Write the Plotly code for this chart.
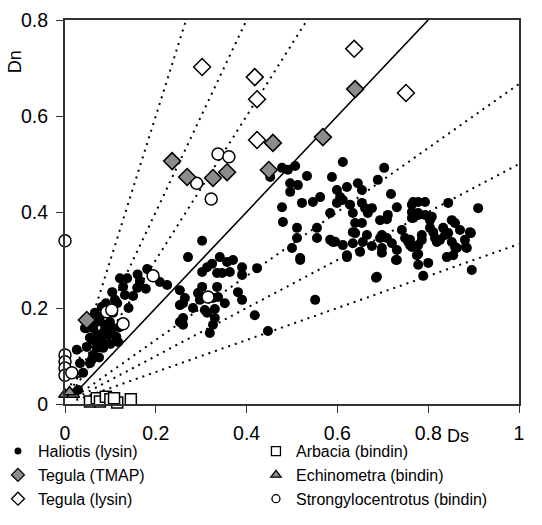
import plotly.graph_objects as go

# ---------------- data ----------------
hal_ds = [0.181,0.121,0.137,0.165,0.209,0.225,0.128,0.159,0.178,0.104,0.132,0.110,0.115,0.081,0.093,0.106,0.077,0.070,0.099,0.048,0.062,0.093,0.099,0.106,0.084,0.095,0.055,0.062,0.077,0.084,0.117,0.048,0.070,0.084,0.026,0.062,0.059,0.033,0.040,0.029,0.253,0.260,0.253,0.260,
          0.088,0.113,0.072,0.100,0.120,0.066,0.090,0.140,0.055,0.160,0.150,0.075,0.044,
          0.302,0.271,0.341,0.370,0.357,0.324,0.313,0.390,0.302,0.335,0.346,0.363,0.390,0.423,0.302,0.335,0.381,0.264,0.293,0.297,0.326,0.337,0.352,0.390,0.253,0.282,0.308,0.313,0.330,0.418,0.260,0.330,0.326,0.319,0.447,
          0.478,0.480,0.511,0.511,0.500,0.518,0.555,0.555,0.551,0.584,0.584,0.595,0.612,0.621,0.634,0.639,0.639,0.522,0.546,
          0.478,0.491,0.507,0.452,0.533,0.588,0.612,0.496,0.513,0.496,0.562,0.599,0.606,0.621,0.645,0.654,0.689,0.703,
          0.599,0.612,0.628,0.634,0.654,0.661,0.676,0.667,
          0.718,0.731,0.764,0.778,0.767,0.778,0.711,0.709,0.694,0.654,0.634,0.665,0.698,0.709,0.694,0.742,0.749,0.590,0.656,0.676,0.698,0.720,0.731,0.756,0.760,0.778,0.621,0.650,0.698,0.731,0.775,0.778,0.687,0.518,
          0.844,0.910,0.767,0.793,0.764,0.778,0.793,0.808,0.764,0.804,0.804,0.811,0.833,0.852,0.859,0.870,0.892,0.786,0.786,0.815,0.819,0.826,0.837,0.844,0.852,0.859,0.863,0.881,0.885,0.764,0.760,0.778,0.841,0.855,0.800,0.789,0.896,0.685,0.729,0.883,0.894]
hal_dn = [0.281,0.262,0.262,0.256,0.254,0.248,0.244,0.242,0.240,0.233,0.227,0.217,0.210,0.202,0.196,0.190,0.181,0.171,0.171,0.158,0.158,0.154,0.150,0.158,0.148,0.144,0.138,0.133,0.133,0.127,0.129,0.119,0.117,0.117,0.113,0.102,0.092,0.085,0.065,0.029,0.237,0.210,0.171,0.179,
          0.165,0.140,0.145,0.125,0.160,0.190,0.210,0.200,0.085,0.270,0.225,0.097,0.158,
          0.340,0.306,0.306,0.300,0.296,0.292,0.285,0.285,0.275,0.273,0.273,0.275,0.269,0.283,0.244,0.244,0.233,0.221,0.231,0.217,0.221,0.223,0.210,0.217,0.206,0.200,0.196,0.190,0.198,0.185,0.165,0.179,0.165,0.148,0.152,
          0.410,0.379,0.367,0.346,0.325,0.300,0.367,0.346,0.217,0.398,0.342,0.338,0.331,0.306,0.335,0.356,0.377,0.419,0.421,
          0.492,0.488,0.496,0.473,0.475,0.473,0.504,0.460,0.456,0.442,0.431,0.446,0.431,0.452,0.460,0.446,0.467,0.492,
          0.419,0.425,0.415,0.398,0.419,0.408,0.408,0.398,
          0.4375,0.410,0.415,0.421,0.3875,0.394,0.394,0.385,0.383,0.377,0.358,0.352,0.352,0.346,0.346,0.3625,0.346,0.3375,0.3375,0.329,0.325,0.335,0.321,0.3375,0.331,0.331,0.310,0.317,0.315,0.300,0.310,0.290,0.265,0.304,
          0.419,0.408,0.421,0.421,0.400,0.398,0.394,0.390,0.3875,0.383,0.367,0.358,0.367,0.383,0.377,0.3625,0.358,0.352,0.342,0.346,0.3375,0.342,0.352,0.356,0.3375,0.327,0.325,0.342,0.325,0.327,0.342,0.3125,0.306,0.310,0.294,0.267,0.279,0.263,0.300,0.327,0.356]

arb_ds = [0.055,0.070,0.077,0.090,0.100,0.115,0.108,0.145]
arb_dn = [0.005,0.012,0.005,0.015,0.010,0.003,0.012,0.010]

tmap_ds = [0.048,0.236,0.269,0.326,0.357,0.449,0.458,0.568,0.639]
tmap_dn = [0.175,0.506,0.473,0.471,0.483,0.4875,0.544,0.556,0.656]

ech_ds = [0.000,0.018,0.010,0.022,0.010]
ech_dn = [0.020,0.020,0.025,0.062,0.068]

teg_ds = [0.302,0.418,0.423,0.423,0.637,0.751]
teg_dn = [0.702,0.681,0.635,0.550,0.740,0.648]

str_ds = [0.337,0.361,0.290,0.322,0.000,0.194,0.092,0.103,0.128,0.000,0.000,0.000,0.000,0.015,0.315]
str_dn = [0.521,0.515,0.460,0.427,0.340,0.267,0.192,0.196,0.167,0.102,0.088,0.075,0.060,0.065,0.223]

# reference ratio lines Dn/Ds
dotted_slopes = [3, 2, 1.5, 2/3, 1/2, 1/3]
solid_slope = 1

x_ticks = [0, 0.2, 0.4, 0.6, 0.8, 1]
x_ticktext = ["0", "0.2", "0.4", "0.6", "0.8", "1"]
y_ticks = [0, 0.2, 0.4, 0.6, 0.8]
y_ticktext = ["0", "0.2", "0.4", "0.6", "0.8"]

XMAX, YMAX = 1.0, 0.8
FONT = "Liberation Sans, Arial, sans-serif"
GRAY = "#8c8c8c"

fig = go.Figure()

def ratio_line(s, dash, width):
    if s >= 1:
        y0 = 0.025; x0 = y0 / s
    else:
        x0 = 0.025; y0 = x0 * s
    x1 = min(XMAX, YMAX / s)
    y1 = x1 * s
    fig.add_trace(go.Scatter(x=[x0, x1], y=[y0, y1], mode="lines",
                             line=dict(color="black", width=width, dash=dash),
                             showlegend=False, hoverinfo="skip"))

for s in dotted_slopes:
    ratio_line(s, "2px,5px", 2)
ratio_line(solid_slope, "solid", 1.6)

series = [
    # x, y, name, symbol, fill, size, legend, legend size, outline width
    (arb_ds, arb_dn, "Arbacia (bindin)", "square", "white", 11, "legend2", 9, 1.3),
    (ech_ds, ech_dn, "Echinometra (bindin)", "triangle-up", GRAY, 11, "legend2", 9, 1.3),
    (hal_ds, hal_dn, "Haliotis (lysin)", "circle", "black", 10, "legend", 7, 0),
    (str_ds, str_dn, "Strongylocentrotus (bindin)", "circle", "white", 12, "legend2", 8, 1.3),
    (tmap_ds, tmap_dn, "Tegula (TMAP)", "diamond", GRAY, 13, "legend", 10, 1.3),
    (teg_ds, teg_dn, "Tegula (lysin)", "diamond", "white", 13, "legend", 10, 1.3),
]
rank = {"Haliotis (lysin)": 1, "Tegula (TMAP)": 2, "Tegula (lysin)": 3,
        "Arbacia (bindin)": 1, "Echinometra (bindin)": 2, "Strongylocentrotus (bindin)": 3}

for x, y, name, sym, fill, size, leg, lsize, lw in series:
    fig.add_trace(go.Scatter(x=x, y=y, mode="markers", name=name, showlegend=False,
                             cliponaxis=False,
                             marker=dict(symbol=sym, color=fill, size=size,
                                         line=dict(color="black", width=1.5 if lw else 0))))
    # legend-only entry with small symbol, like the original key
    fig.add_trace(go.Scatter(x=[None], y=[None], mode="markers", name=name,
                             legend=leg, legendrank=rank[name], showlegend=True,
                             marker=dict(symbol=sym, color=fill, size=lsize,
                                         line=dict(color="black", width=lw))))

leg_common = dict(orientation="v", yanchor="top", font=dict(size=16), itemwidth=30,
                  bgcolor="rgba(0,0,0,0)", tracegroupgap=0, indentation=-8,
                  xanchor="left", xref="container", yref="container")

fig.update_layout(
    width=542, height=525,
    margin=dict(l=65, r=23, t=20, b=121, autoexpand=False),
    paper_bgcolor="white", plot_bgcolor="white",
    font=dict(family=FONT, color="black", size=19),
    xaxis=dict(range=[0, XMAX], tickvals=x_ticks, ticktext=x_ticktext,
               showgrid=False, zeroline=False, showline=True, mirror=True,
               linecolor="#333", linewidth=2, ticks="outside", ticklen=7,
               tickcolor="#333", tickfont=dict(size=19.5), ticklabelstandoff=4),
    yaxis=dict(range=[0, YMAX], tickvals=y_ticks, ticktext=y_ticktext,
               showgrid=False, zeroline=False, showline=True, mirror=True,
               linecolor="#333", linewidth=2, ticks="outside", ticklen=7,
               tickcolor="#333", tickfont=dict(size=19.5), ticklabelstandoff=4),
    legend=dict(x=0.011, y=0.173, **leg_common),
    legend2=dict(x=0.487, y=0.173, **leg_common),
    showlegend=True,
    annotations=[
        dict(text="Dn", x=-0.11, y=0.89, xref="paper", yref="paper",
             xanchor="center", yanchor="middle",
             showarrow=False, textangle=-90, font=dict(size=18)),
        dict(text="Ds", x=0.866, y=-0.084, xref="paper", yref="paper",
             xanchor="center", yanchor="middle",
             showarrow=False, font=dict(size=18)),
    ],
)

fig.write_html("out.html")
